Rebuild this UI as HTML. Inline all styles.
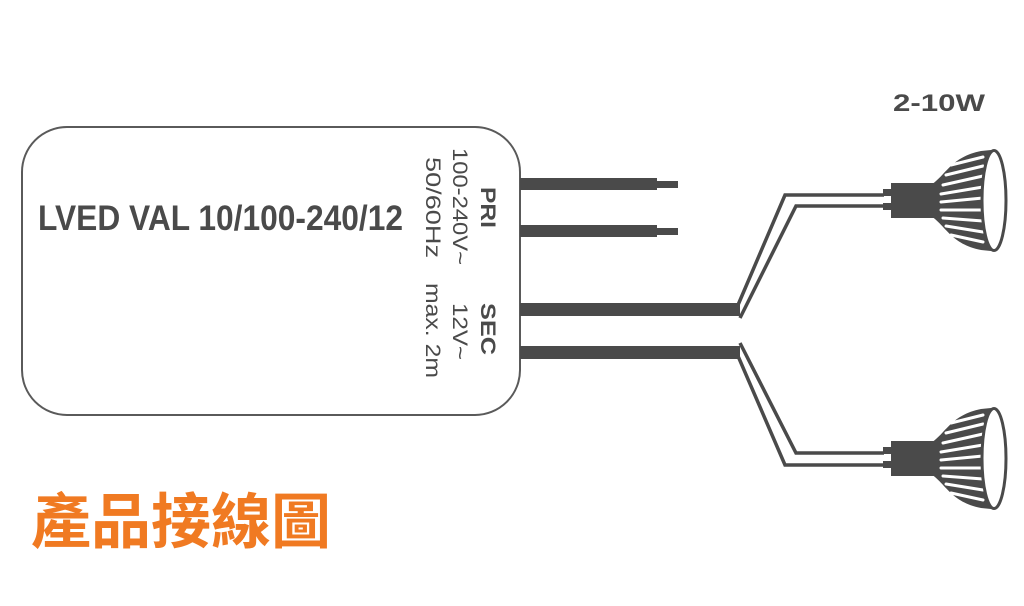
<!DOCTYPE html>
<html><head><meta charset="utf-8"><style>
html,body{margin:0;padding:0;background:#fff;}
svg{display:block;}
</style></head><body>
<svg width="1024" height="606" viewBox="0 0 1024 606" xmlns="http://www.w3.org/2000/svg">
<defs>
<g id="lamp">
  <!-- pins -->
  <rect x="-8" y="6" width="9" height="7" fill="#4a4a4a"/>
  <rect x="-8" y="20" width="9" height="7" fill="#4a4a4a"/>
  <!-- base -->
  <rect x="0" y="0" width="48" height="35" fill="#4a4a4a"/>
  <!-- reflector -->
  <path d="M40,2 C55,-8 60,-26 90,-32 L100,-33 L100,68 L90,67 C60,61 55,43 40,33 Z" fill="#4a4a4a"/>
  <g stroke="#fff" stroke-width="3" fill="none" stroke-linecap="round">
    <path d="M60,-18 L92,-26"/>
    <path d="M55,-8 L92,-17"/>
    <path d="M52,2 L92,-7"/>
    <path d="M50,11 L92,4"/>
    <path d="M50,19 L92,15"/>
    <path d="M50,27 L92,27"/>
    <path d="M52,35 L92,38"/>
    <path d="M55,43 L92,49"/>
    <path d="M60,52 L92,59"/>
  </g>
  <ellipse cx="103" cy="17.5" rx="12" ry="50" fill="#fff" stroke="#4a4a4a" stroke-width="3"/>
</g>
</defs>

<!-- box -->
<rect x="22" y="127" width="498" height="288" rx="45" ry="45" fill="#fff" stroke="#5a5a5a" stroke-width="2"/>

<text x="38" y="230" font-family="Liberation Sans, sans-serif" font-weight="bold" font-size="35" fill="#4a4a4a" textLength="365" lengthAdjust="spacingAndGlyphs">LVED VAL 10/100-240/12</text>

<g font-family="Liberation Sans, sans-serif" fill="#4a4a4a" font-size="21">
  <text transform="translate(481,187) rotate(90)" font-weight="bold" textLength="41" lengthAdjust="spacingAndGlyphs">PRI</text>
  <text transform="translate(453,148) rotate(90)" textLength="117" lengthAdjust="spacingAndGlyphs">100-240V~</text>
  <text transform="translate(426,157) rotate(90)" textLength="101" lengthAdjust="spacingAndGlyphs">50/60Hz</text>
  <text transform="translate(481,303) rotate(90)" font-weight="bold" textLength="52" lengthAdjust="spacingAndGlyphs">SEC</text>
  <text transform="translate(453,303) rotate(90)" textLength="57" lengthAdjust="spacingAndGlyphs">12V~</text>
  <text transform="translate(426,283) rotate(90)" textLength="95" lengthAdjust="spacingAndGlyphs">max. 2m</text>
</g>

<!-- PRI wires -->
<rect x="520" y="178" width="137" height="12" fill="#4a4a4a"/>
<rect x="657" y="181" width="21" height="7" fill="#4a4a4a"/>
<rect x="520" y="225" width="137" height="12" fill="#4a4a4a"/>
<rect x="657" y="228" width="21" height="7" fill="#4a4a4a"/>

<!-- SEC wires -->
<rect x="520" y="303" width="220" height="13" fill="#4a4a4a"/>
<rect x="520" y="346" width="220" height="13" fill="#4a4a4a"/>

<g stroke="#4a4a4a" stroke-width="3.5" fill="none" stroke-linejoin="miter">
  <polyline points="738,305 785,195 884,195"/>
  <polyline points="740,318 796,206 884,206"/>
  <polyline points="740,343 796,453 884,453"/>
  <polyline points="738,356 785,465 884,465"/>
</g>

<use href="#lamp" x="891" y="183"/>
<use href="#lamp" x="891" y="441"/>

<text x="893" y="111" font-family="Liberation Sans, sans-serif" font-weight="bold" font-size="24" fill="#4a4a4a" textLength="92" lengthAdjust="spacingAndGlyphs">2-10W</text>

<text x="31" y="543" font-family="Liberation Sans, 'Noto Sans CJK TC', sans-serif" font-weight="bold" font-size="60" fill="#f07a22" textLength="300" lengthAdjust="spacingAndGlyphs">產品接線圖</text>
</svg>
</body></html>
